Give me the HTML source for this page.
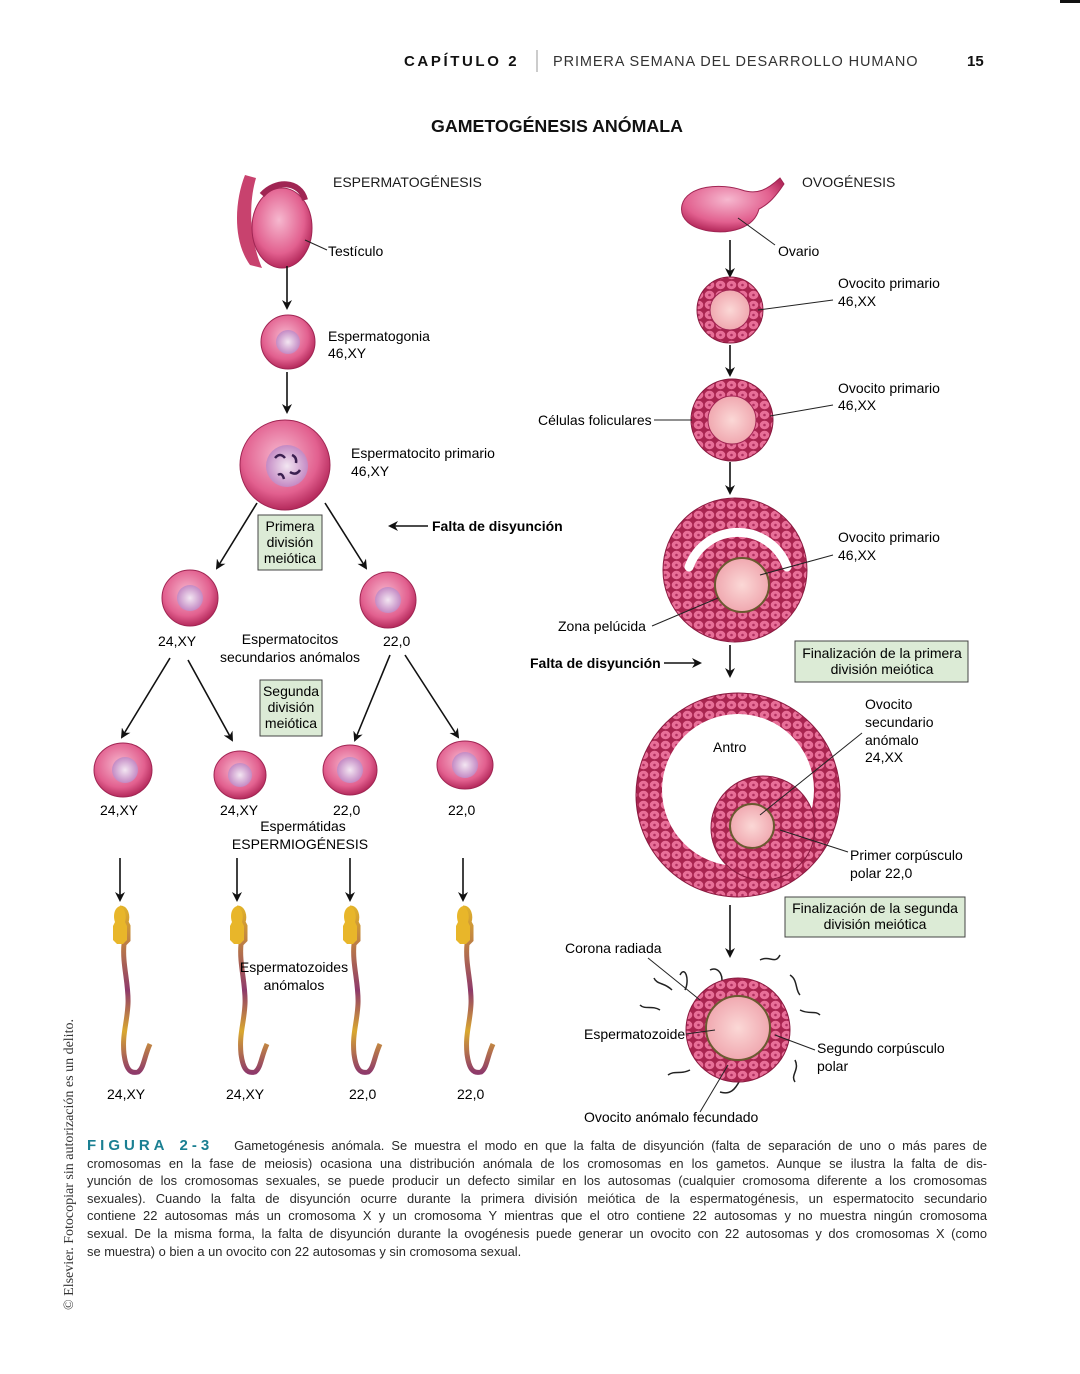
<!DOCTYPE html>
<html><head><meta charset="utf-8"><style>
html,body{margin:0;padding:0;background:#fff}
body{width:1080px;height:1374px;position:relative;overflow:hidden;font-family:"Liberation Sans",sans-serif;color:#222}
svg{position:absolute;left:0;top:0}
.cap{position:absolute;left:87px;top:1137px;width:900px;font-size:12.9px;line-height:17.6px;color:#2a2a2a}
.cap div{white-space:nowrap;text-align:justify;text-align-last:justify}
.cap div.last{text-align-last:left}
.fig{color:#1a7f92;font-weight:bold;letter-spacing:4px;font-size:15px}
.side{position:absolute;left:62px;top:1310px;transform-origin:0 0;transform:rotate(-90deg);font-family:"Liberation Serif",serif;font-size:14px;white-space:nowrap;color:#333}
</style></head><body>
<svg width="1080" height="1374" viewBox="0 0 1080 1374" font-family="Liberation Sans, sans-serif">
<defs>
<radialGradient id="cell" cx="45%" cy="40%" r="60%"><stop offset="0" stop-color="#f6b8cf"/><stop offset=".7" stop-color="#e2608f"/><stop offset="1" stop-color="#b52a5c"/></radialGradient>
<radialGradient id="nuc" cx="50%" cy="50%" r="50%"><stop offset="0" stop-color="#f3e6f2"/><stop offset="1" stop-color="#c48ac4"/></radialGradient>
<radialGradient id="oo" cx="50%" cy="50%" r="50%"><stop offset="0" stop-color="#fbd8d6"/><stop offset="1" stop-color="#f0a8b0"/></radialGradient>
<pattern id="fol" width="11" height="10" patternUnits="userSpaceOnUse"><rect width="11" height="10" fill="#a8244f"/><ellipse cx="5.5" cy="5" rx="4.8" ry="4.2" fill="#e86f98"/><circle cx="5.5" cy="5" r="1.3" fill="#b03060"/></pattern>
<marker id="ah" markerWidth="10" markerHeight="10" refX="8" refY="5" orient="auto" markerUnits="userSpaceOnUse"><path d="M0,0 L10,5 L0,10 L3,5z" fill="#111"/></marker>
<linearGradient id="tail" x1="0" y1="0" x2="0" y2="1"><stop offset="0" stop-color="#e0b12a"/><stop offset=".5" stop-color="#8e3a6a"/><stop offset=".75" stop-color="#d9a830"/><stop offset="1" stop-color="#8e3a6a"/></linearGradient>
</defs>
<rect x="1060" y="0" width="20" height="3" fill="#111"/>
<text x="404" y="66" font-size="15" font-weight="bold" letter-spacing="2.6" fill="#111">CAPÍTULO 2</text>
<line x1="537" y1="50" x2="537" y2="72" stroke="#999"/>
<text x="553" y="66" font-size="14.5" letter-spacing="0.9" fill="#333">PRIMERA SEMANA DEL DESARROLLO HUMANO</text>
<text x="967" y="66" font-size="15" font-weight="bold" fill="#111">15</text>
<text x="557" y="132" font-size="17.8" font-weight="bold" text-anchor="middle" fill="#111">GAMETOGÉNESIS ANÓMALA</text>
<g font-size="14" fill="#1a1a1a">
<text x="333" y="187">ESPERMATOGÉNESIS</text>
<text x="802" y="187">OVOGÉNESIS</text>
</g>
<path d="M245,175 C235,200 232,240 250,265 L262,268 C250,240 248,205 256,178z" fill="#c8426e"/>
<ellipse cx="282" cy="228" rx="30" ry="40" fill="url(#cell)" stroke="#a02553"/>
<path d="M262,195 C275,180 300,180 305,200" fill="none" stroke="#a02553" stroke-width="6"/>
<line x1="305" y1="240" x2="327" y2="250" stroke="#222"/>
<text x="328" y="256" font-size="14">Testículo</text>
<g stroke="#111" stroke-width="1.6" marker-end="url(#ah)">
<line x1="287" y1="266" x2="287" y2="308"/>
<line x1="287" y1="372" x2="287" y2="412"/>
<line x1="257" y1="503" x2="217" y2="568"/>
<line x1="325" y1="503" x2="366" y2="568"/>
<line x1="170" y1="658" x2="122" y2="737"/>
<line x1="188" y1="660" x2="232" y2="740"/>
<line x1="390" y1="655" x2="355" y2="740"/>
<line x1="405" y1="655" x2="458" y2="737"/>
<line x1="120" y1="858" x2="120" y2="900"/>
<line x1="237" y1="858" x2="237" y2="900"/>
<line x1="350" y1="858" x2="350" y2="900"/>
<line x1="463" y1="858" x2="463" y2="900"/>
<line x1="428" y1="526" x2="390" y2="526"/>
<line x1="730" y1="240" x2="730" y2="276"/>
<line x1="730" y1="345" x2="730" y2="375"/>
<line x1="730" y1="462" x2="730" y2="493"/>
<line x1="730" y1="645" x2="730" y2="676"/>
<line x1="664" y1="663" x2="700" y2="663"/>
<line x1="730" y1="905" x2="730" y2="956"/>
</g>
<circle cx="288" cy="342" r="27" fill="url(#cell)" stroke="#a02553"/>
<circle cx="288" cy="342" r="12" fill="url(#nuc)"/>
<text x="328" y="341" font-size="14">Espermatogonia</text><text x="328" y="358" font-size="14">46,XY</text>
<circle cx="285" cy="465" r="45" fill="url(#cell)" stroke="#a02553"/>
<circle cx="287" cy="466" r="21" fill="url(#nuc)"/>
<path d="M275,458 q5,-6 10,0 M290,472 q6,4 10,-2 M278,475 q4,-3 6,4 M292,455 q5,2 4,8" stroke="#3b2050" stroke-width="2.5" fill="none"/>
<text x="351" y="458" font-size="14">Espermatocito primario</text><text x="351" y="476" font-size="14">46,XY</text>
<rect x="258" y="515" width="64" height="55" fill="#dcebd6" stroke="#444"/>
<g font-size="14" text-anchor="middle"><text x="290" y="531">Primera</text><text x="290" y="547">división</text><text x="290" y="563">meiótica</text></g>
<text x="432" y="531" font-size="14" font-weight="bold">Falta de disyunción</text>
<circle cx="190" cy="598" r="28" fill="url(#cell)" stroke="#a02553"/><circle cx="190" cy="598" r="13" fill="url(#nuc)"/>
<circle cx="388" cy="600" r="28" fill="url(#cell)" stroke="#a02553"/><circle cx="388" cy="600" r="13" fill="url(#nuc)"/>
<g font-size="14"><text x="158" y="646">24,XY</text><text x="383" y="646">22,0</text>
<text x="290" y="644" text-anchor="middle">Espermatocitos</text><text x="290" y="662" text-anchor="middle">secundarios anómalos</text></g>
<rect x="260" y="680" width="62" height="56" fill="#dcebd6" stroke="#444"/>
<g font-size="14" text-anchor="middle"><text x="291" y="696">Segunda</text><text x="291" y="712">división</text><text x="291" y="728">meiótica</text></g>
<ellipse cx="123" cy="770" rx="29" ry="27" fill="url(#cell)" stroke="#a02553"/><circle cx="125" cy="770" r="13" fill="url(#nuc)"/>
<ellipse cx="240" cy="775" rx="26" ry="24" fill="url(#cell)" stroke="#a02553"/><circle cx="240" cy="775" r="12" fill="url(#nuc)"/>
<ellipse cx="350" cy="770" rx="27" ry="25" fill="url(#cell)" stroke="#a02553"/><circle cx="350" cy="770" r="13" fill="url(#nuc)"/>
<ellipse cx="465" cy="765" rx="28" ry="24" fill="url(#cell)" stroke="#a02553"/><circle cx="465" cy="765" r="13" fill="url(#nuc)"/>
<g font-size="14"><text x="100" y="815">24,XY</text><text x="220" y="815">24,XY</text><text x="333" y="815">22,0</text><text x="448" y="815">22,0</text>
<text x="303" y="831" text-anchor="middle">Espermátidas</text><text x="300" y="849" text-anchor="middle">ESPERMIOGÉNESIS</text></g>
<g id="sp">
<path d="M120,908 c6,0 8,8 6,14 l2,4 v14 l-4,4 c-2,20 5,40 4,60 c-1,20 -6,30 -4,50 c2,15 6,20 14,18 c6,-4 6,-15 12,-28" fill="none" stroke="url(#tail)" stroke-width="5"/>
<path d="M120,906 c-6,2 -7,10 -5,16 l-2,4 v14 l4,4 h6 l4,-4 v-14 l-2,-4 c2,-6 0,-14 -5,-16z" fill="#e8b62a"/>
</g>
<use href="#sp" x="117"/><use href="#sp" x="230"/><use href="#sp" x="343"/>
<g font-size="14"><text x="107" y="1099">24,XY</text><text x="226" y="1099">24,XY</text><text x="349" y="1099">22,0</text><text x="457" y="1099">22,0</text>
<text x="294" y="972" text-anchor="middle">Espermatozoides</text><text x="294" y="990" text-anchor="middle">anómalos</text></g>
<path d="M682,205 c5,-20 40,-22 60,-15 c15,5 25,0 38,-12 l4,6 c-8,12 -15,20 -25,25 c-5,20 -30,25 -50,22 c-18,-3 -30,-12 -27,-26z" fill="url(#cell)" stroke="#a02553"/>
<line x1="738" y1="218" x2="775" y2="245" stroke="#222"/>
<text x="778" y="256" font-size="14">Ovario</text>
<circle cx="730" cy="310" r="33" fill="url(#fol)" stroke="#8a1a40"/>
<circle cx="730" cy="310" r="20" fill="url(#oo)" stroke="#a02553"/>
<line x1="758" y1="310" x2="833" y2="300" stroke="#222"/>
<g font-size="14"><text x="838" y="288">Ovocito primario</text><text x="838" y="306">46,XX</text>
<text x="838" y="393">Ovocito primario</text><text x="838" y="410">46,XX</text>
<text x="838" y="542">Ovocito primario</text><text x="838" y="560">46,XX</text>
<text x="538" y="425">Células foliculares</text>
<text x="558" y="631">Zona pelúcida</text>
<text x="530" y="668" font-weight="bold">Falta de disyunción</text>
</g>
<circle cx="732" cy="420" r="41" fill="url(#fol)" stroke="#8a1a40"/>
<circle cx="732" cy="420" r="24" fill="url(#oo)" stroke="#a02553"/>
<line x1="654" y1="420" x2="692" y2="420" stroke="#222"/><line x1="770" y1="416" x2="833" y2="405" stroke="#222"/>
<circle cx="735" cy="570" r="72" fill="url(#fol)" stroke="#8a1a40"/>
<path d="M689,567 A52,52 0 0 1 787,567" fill="none" stroke="#fff" stroke-width="9" stroke-linecap="round"/>
<circle cx="742" cy="585" r="27" fill="url(#oo)" stroke="#6a5a30" stroke-width="2"/>
<line x1="760" y1="575" x2="833" y2="555" stroke="#222"/><line x1="652" y1="626" x2="718" y2="598" stroke="#222"/>
<rect x="795" y="641" width="173" height="41" fill="#dcebd6" stroke="#444"/>
<g font-size="14" text-anchor="middle"><text x="882" y="658">Finalización de la primera</text><text x="882" y="674">división meiótica</text></g>
<circle cx="738" cy="795" r="102" fill="url(#fol)" stroke="#8a1a40"/>
<circle cx="738" cy="790" r="76" fill="#fff"/>
<circle cx="763" cy="828" r="52" fill="url(#fol)" stroke="#8a1a40"/>
<circle cx="752" cy="826" r="22" fill="url(#oo)" stroke="#6a5a30" stroke-width="2"/>
<text x="713" y="752" font-size="14">Antro</text>
<line x1="760" y1="815" x2="862" y2="733" stroke="#222"/>
<line x1="780" y1="830" x2="848" y2="852" stroke="#222"/>
<g font-size="14"><text x="865" y="709">Ovocito</text><text x="865" y="727">secundario</text><text x="865" y="745">anómalo</text><text x="865" y="762">24,XX</text>
<text x="850" y="860">Primer corpúsculo</text><text x="850" y="878">polar 22,0</text></g>
<rect x="785" y="897" width="180" height="40" fill="#dcebd6" stroke="#444"/>
<g font-size="14" text-anchor="middle"><text x="875" y="913">Finalización de la segunda</text><text x="875" y="929">división meiótica</text></g>
<g stroke="#222" stroke-width="1.5" fill="none">
<path d="M680,975 c5,-10 10,5 5,15 M710,970 c10,-5 15,10 10,15 M760,960 c10,-5 15,5 20,-5 M790,975 c8,5 5,15 10,20 M800,1010 c10,5 15,0 20,5 M795,1060 c5,10 -5,15 0,22 M740,1080 c-5,10 -10,15 -20,12 M690,1070 c-10,5 -15,0 -22,5 M660,1010 c-8,-5 -15,0 -20,-5 M672,990 c-8,-8 -15,-5 -18,-12"/>
</g>
<circle cx="738" cy="1030" r="52" fill="url(#fol)" stroke="#8a1a40"/>
<circle cx="738" cy="1028" r="32" fill="url(#oo)" stroke="#6a5a30" stroke-width="2"/>
<line x1="648" y1="958" x2="700" y2="1000" stroke="#222"/>
<line x1="686" y1="1034" x2="715" y2="1030" stroke="#222"/>
<line x1="815" y1="1050" x2="775" y2="1035" stroke="#222"/>
<line x1="728" y1="1065" x2="700" y2="1112" stroke="#222"/>
<g font-size="14"><text x="565" y="953">Corona radiada</text><text x="584" y="1039">Espermatozoide</text>
<text x="817" y="1053">Segundo corpúsculo</text><text x="817" y="1071">polar</text><text x="584" y="1122">Ovocito anómalo fecundado</text></g>
</svg>
<div class="cap">
<div><span class="fig">FIGURA 2-3</span>&nbsp;&nbsp; Gametogénesis anómala. Se muestra el modo en que la falta de disyunción (falta de separación de uno o más pares de</div>
<div>cromosomas en la fase de meiosis) ocasiona una distribución anómala de los cromosomas en los gametos. Aunque se ilustra la falta de dis-</div>
<div>yunción de los cromosomas sexuales, se puede producir un defecto similar en los autosomas (cualquier cromosoma diferente a los cromosomas</div>
<div>sexuales). Cuando la falta de disyunción ocurre durante la primera división meiótica de la espermatogénesis, un espermatocito secundario</div>
<div>contiene 22 autosomas más un cromosoma X y un cromosoma Y mientras que el otro contiene 22 autosomas y no muestra ningún cromosoma</div>
<div>sexual. De la misma forma, la falta de disyunción durante la ovogénesis puede generar un ovocito con 22 autosomas y dos cromosomas X (como</div>
<div class="last">se muestra) o bien a un ovocito con 22 autosomas y sin cromosoma sexual.</div>
</div>
<div class="side">© Elsevier. Fotocopiar sin autorización es un delito.</div>
</body></html>
